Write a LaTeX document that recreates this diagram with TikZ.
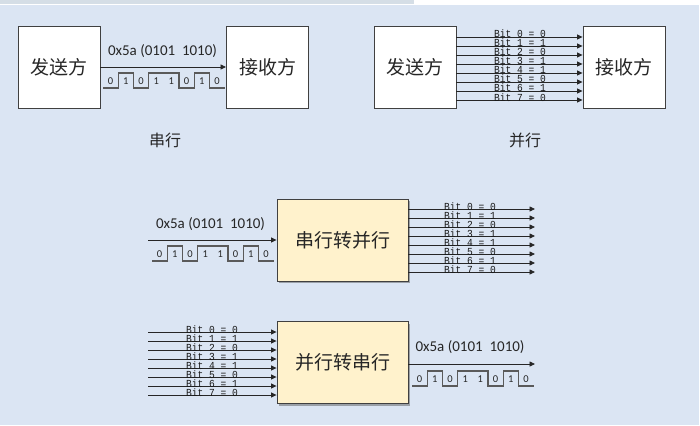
\documentclass[tikz,border=0pt]{standalone}
\usepackage{fontspec}
\setmainfont{Carlito}
\newfontfamily\cjk{Noto Sans CJK SC}
\newfontfamily\monof{Liberation Mono}
\usetikzlibrary{arrows.meta,shadows}
\definecolor{bgblue}{HTML}{DBE5F3}
\definecolor{graybar}{HTML}{D5DEE6}
\definecolor{boxline}{HTML}{404040}
\definecolor{yboxfill}{HTML}{FFF2CC}
\definecolor{wavecol}{HTML}{5A5A5A}
\newcommand\bitlabeltext[2]{\scalebox{1}[1.12]{Bit #1 = #2}}
\begin{document}
\begin{tikzpicture}[x=1pt,y=-1pt,
  box/.style={draw=boxline, line width=0.9pt, fill=white, minimum width=82pt, minimum height=82pt, inner sep=0pt, text=black!85, font=\cjk\fontsize{19}{19}\selectfont},
  ybox/.style={box, fill=yboxfill, minimum width=131pt, minimum height=82pt, drop shadow={shadow xshift=2pt, shadow yshift=-2pt, opacity=0.45, fill=black!70}},
  sig/.style={draw=black!85, line width=0.8pt, -{Triangle[length=5.5pt,width=5pt]}},
  bitlbl/.style={font=\monof\fontsize{9.6}{9.6}\selectfont, anchor=base, inner sep=0pt, text=black!90},
  hexlbl/.style={font=\fontsize{15}{15}\selectfont, anchor=base, inner sep=0pt, text=black!85},
  caption/.style={font=\cjk\fontsize{16}{16}\selectfont, text=black!85, inner sep=0pt},
  wave/.style={draw=wavecol, line width=1.1pt},
  wbit/.style={font=\fontsize{10.5}{10.5}\selectfont, inner sep=0pt, text=black!85},
  waveform/.pic={
    \draw[wave] (0,0) -- (15.2,0) -- (15.2,-15) -- (30.4,-15) -- (30.4,0) -- (45.6,0) -- (45.6,-15) -- (76,-15) -- (76,0) -- (91.2,0) -- (91.2,-15) -- (106.4,-15) -- (106.4,0) -- (121.6,0);
    \foreach \b [count=\i from 0] in {0,1,0,1,1,0,1,0}
      \node[wbit] at (7.6+15.2*\i,-7) {\b};
  }
]
\useasboundingbox (0,0) rectangle (700,425);
% background
\fill[bgblue] (0,5) rectangle (699,425);
\fill[graybar] (0,0) rectangle (414,4);

% ---------- serial (top left) ----------
\node[box] (s1) at (59,67) {发送方};
\node[box] (r1) at (267.5,67) {接收方};
\draw[sig] (s1) -- (r1);
\node[hexlbl] (h1) at (162.5,56) {0x5a (0101\ \ 1010)};
\pic at (103,88) {waveform};
\node[caption] (c1) at (165,140) {串行};

% ---------- parallel (top right) ----------
\node[box] (s2) at (415,67) {发送方};
\node[box] (r2) at (624,67) {接收方};
\foreach \b [count=\i from 0] in {0,1,0,1,1,0,1,0} {
  \pgfmathsetmacro\yy{37+9*\i}
  \draw[sig] (s2.east |- 0,\yy) -- (r2.west |- 0,\yy);
  \node[bitlbl] (pb\i) at (520,\yy+1) {\bitlabeltext{\i}{\b}};
}
\node[caption] (c2) at (525,140) {并行};

% ---------- serial to parallel ----------
\node[ybox] (m1) at (342.5,240) {串行转并行};
\coordinate (m1in) at (148,240);
\draw[sig] (m1in) -- (m1.west);
\node[hexlbl] (h2) at (210.5,228) {0x5a (0101\ \ 1010)};
\pic at (152,261) {waveform};
\foreach \b [count=\i from 0] in {0,1,0,1,1,0,1,0} {
  \pgfmathsetmacro\yy{209+9*\i}
  \coordinate (m1o\i) at (535,\yy);
  \draw[sig] (m1.east |- m1o\i) -- (m1o\i);
  \node[bitlbl] (sb\i) at (470,\yy+1) {\bitlabeltext{\i}{\b}};
}

% ---------- parallel to serial ----------
\node[ybox] (m2) at (342.5,362.5) {并行转串行};
\foreach \b [count=\i from 0] in {0,1,0,1,1,0,1,0} {
  \pgfmathsetmacro\yy{332+9*\i}
  \coordinate (m2i\i) at (148,\yy);
  \draw[sig] (m2i\i) -- (m2.west |- m2i\i);
  \node[bitlbl] (qb\i) at (212,\yy+1) {\bitlabeltext{\i}{\b}};
}
\coordinate (m2out) at (535,364);
\draw[sig] (m2.east |- m2out) -- (m2out);
\node[hexlbl] (h3) at (470,351) {0x5a (0101\ \ 1010)};
\pic at (412,386) {waveform};
\end{tikzpicture}
\end{document}
